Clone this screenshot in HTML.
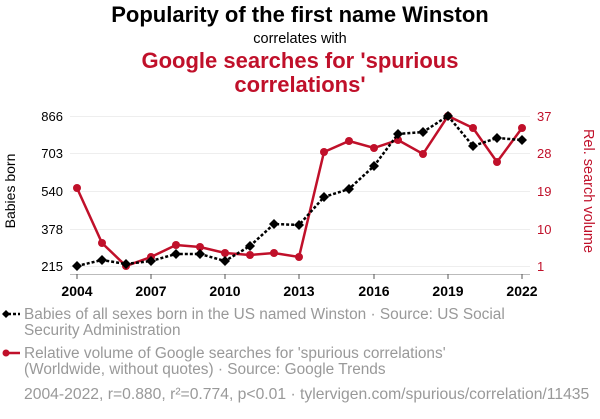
<!DOCTYPE html>
<html><head><meta charset="utf-8"><style>
body{margin:0;background:#fff;width:600px;height:414px;overflow:hidden;font-family:"Liberation Sans",sans-serif}
</style></head><body>
<svg width="600" height="414" xmlns="http://www.w3.org/2000/svg" font-family="Liberation Sans, sans-serif">
<text x="300" y="22" text-anchor="middle" font-size="22" font-weight="bold" fill="#000">Popularity of the first name Winston</text>
<text x="300" y="43" text-anchor="middle" font-size="14.5" fill="#000">correlates with</text>
<text x="300" y="68" text-anchor="middle" font-size="22" font-weight="bold" fill="#c0102a">Google searches for 'spurious</text>
<text x="300" y="92" text-anchor="middle" font-size="22" font-weight="bold" fill="#c0102a">correlations'</text>
<g stroke="#eee" stroke-width="1">
<line x1="70" x2="530" y1="116.5" y2="116.5"/><line x1="70" x2="530" y1="153.5" y2="153.5"/><line x1="70" x2="530" y1="191.5" y2="191.5"/><line x1="70" x2="530" y1="229.5" y2="229.5"/><line x1="70" x2="530" y1="266.5" y2="266.5"/>
</g>
<line x1="70" x2="530" y1="274.5" y2="274.5" stroke="#bbb"/>
<g stroke="#555"><line x1="77" x2="77" y1="274" y2="279"/><line x1="151" x2="151" y1="274" y2="279"/><line x1="225" x2="225" y1="274" y2="279"/><line x1="299" x2="299" y1="274" y2="279"/><line x1="374" x2="374" y1="274" y2="279"/><line x1="448" x2="448" y1="274" y2="279"/><line x1="522" x2="522" y1="274" y2="279"/></g>
<g font-size="14" font-weight="bold" text-anchor="middle" fill="#000">
<text x="77" y="296">2004</text><text x="151" y="296">2007</text><text x="225" y="296">2010</text><text x="299" y="296">2013</text><text x="374" y="296">2016</text><text x="448" y="296">2019</text><text x="522" y="296">2022</text></g>
<g font-size="13" text-anchor="end" fill="#000">
<text x="63" y="121">866</text><text x="63" y="158">703</text><text x="63" y="196">540</text><text x="63" y="234">378</text><text x="63" y="271">215</text></g>
<g font-size="13" fill="#c0102a">
<text x="537" y="121">37</text><text x="537" y="158">28</text><text x="537" y="196">19</text><text x="537" y="234">10</text><text x="537" y="271">1</text></g>
<text transform="translate(15,191) rotate(-90)" text-anchor="middle" font-size="14" fill="#000">Babies born</text>
<text transform="translate(584,191) rotate(90)" text-anchor="middle" font-size="14.5" fill="#c0102a">Rel. search volume</text>
<polyline fill="none" stroke="#c0102a" stroke-width="2.5" points="77,188 102,243 126,266 151,257 176,245 200,247 225,253 250,255 274,253 299,257 324,152 349,141 374,148 398,140 423,154 448,116 473,128 497,162 522,128"/>
<g fill="#c0102a"><circle cx="77" cy="188" r="4"/><circle cx="102" cy="243" r="4"/><circle cx="126" cy="266" r="4"/><circle cx="151" cy="257" r="4"/><circle cx="176" cy="245" r="4"/><circle cx="200" cy="247" r="4"/><circle cx="225" cy="253" r="4"/><circle cx="250" cy="255" r="4"/><circle cx="274" cy="253" r="4"/><circle cx="299" cy="257" r="4"/><circle cx="324" cy="152" r="4"/><circle cx="349" cy="141" r="4"/><circle cx="374" cy="148" r="4"/><circle cx="398" cy="140" r="4"/><circle cx="423" cy="154" r="4"/><circle cx="448" cy="116" r="4"/><circle cx="473" cy="128" r="4"/><circle cx="497" cy="162" r="4"/><circle cx="522" cy="128" r="4"/></g>
<polyline fill="none" stroke="#000" stroke-width="2.5" stroke-dasharray="3,2" points="77,266 102,260 126,264 151,261 176,254 200,254 225,261 250,246 274,224 299,225 324,197 349,189 374,166 398,134 423,132 448,116 473,146 497,138 522,140"/>
<g fill="#000">
<path d="M0,-5 L5,0 L0,5 L-5,0Z" transform="translate(77,266)"/>
<path d="M0,-5 L5,0 L0,5 L-5,0Z" transform="translate(102,260)"/><path d="M0,-5 L5,0 L0,5 L-5,0Z" transform="translate(126,264)"/><path d="M0,-5 L5,0 L0,5 L-5,0Z" transform="translate(151,261)"/><path d="M0,-5 L5,0 L0,5 L-5,0Z" transform="translate(176,254)"/><path d="M0,-5 L5,0 L0,5 L-5,0Z" transform="translate(200,254)"/><path d="M0,-5 L5,0 L0,5 L-5,0Z" transform="translate(225,261)"/><path d="M0,-5 L5,0 L0,5 L-5,0Z" transform="translate(250,246)"/><path d="M0,-5 L5,0 L0,5 L-5,0Z" transform="translate(274,224)"/><path d="M0,-5 L5,0 L0,5 L-5,0Z" transform="translate(299,225)"/><path d="M0,-5 L5,0 L0,5 L-5,0Z" transform="translate(324,197)"/><path d="M0,-5 L5,0 L0,5 L-5,0Z" transform="translate(349,189)"/><path d="M0,-5 L5,0 L0,5 L-5,0Z" transform="translate(374,166)"/><path d="M0,-5 L5,0 L0,5 L-5,0Z" transform="translate(398,134)"/><path d="M0,-5 L5,0 L0,5 L-5,0Z" transform="translate(423,132)"/><path d="M0,-5 L5,0 L0,5 L-5,0Z" transform="translate(448,116)"/><path d="M0,-5 L5,0 L0,5 L-5,0Z" transform="translate(473,146)"/><path d="M0,-5 L5,0 L0,5 L-5,0Z" transform="translate(497,138)"/><path d="M0,-5 L5,0 L0,5 L-5,0Z" transform="translate(522,140)"/>
</g>
<line x1="3" x2="20" y1="314" y2="314" stroke="#000" stroke-width="2.5" stroke-dasharray="3,2"/>
<path d="M0,-4 L4,0 L0,4 L-4,0Z" transform="translate(6,314)" fill="#000"/>
<text x="24" y="319" font-size="15.4" fill="#999">Babies of all sexes born in the US named Winston · Source: US Social</text>
<text x="24" y="335" font-size="15.4" fill="#999">Security Administration</text>
<line x1="3" x2="20" y1="353" y2="353" stroke="#c0102a" stroke-width="2.5"/>
<circle cx="6" cy="353" r="3.5" fill="#c0102a"/>
<text x="24" y="358" font-size="15.4" fill="#999">Relative volume of Google searches for 'spurious correlations'</text>
<text x="24" y="374" font-size="15.4" fill="#999">(Worldwide, without quotes) · Source: Google Trends</text>
<text x="24" y="399" font-size="15.7" fill="#999">2004-2022, r=0.880, r²=0.774, p&lt;0.01 · tylervigen.com/spurious/correlation/11435</text>
</svg>
</body></html>
